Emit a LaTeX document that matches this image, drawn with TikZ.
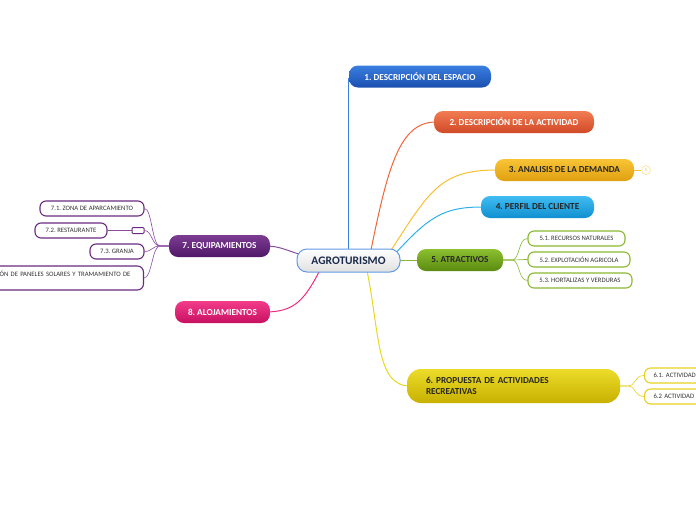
\documentclass[tikz,border=0pt]{standalone}
\usepackage{fontspec}
\setmainfont{Carlito}
\frenchspacing
\definecolor{topA}{HTML}{3A7EE0}\definecolor{botA}{HTML}{1A50B0}
\definecolor{topB}{HTML}{F27C52}\definecolor{botB}{HTML}{D04A28}
\definecolor{topC}{HTML}{F8C436}\definecolor{botC}{HTML}{E0A010}
\definecolor{topD}{HTML}{40BCF2}\definecolor{botD}{HTML}{1090D0}
\definecolor{topE}{HTML}{8CC030}\definecolor{botE}{HTML}{5A8A10}
\definecolor{topF}{HTML}{ECDC2A}\definecolor{botF}{HTML}{C8B000}
\definecolor{topG}{HTML}{7C3C92}\definecolor{botG}{HTML}{501868}
\definecolor{topH}{HTML}{F23C8A}\definecolor{botH}{HTML}{C81060}
\definecolor{lineA}{HTML}{3A80E0}\definecolor{lineB}{HTML}{F0643A}
\definecolor{lineC}{HTML}{F8C030}\definecolor{lineD}{HTML}{30B0E8}
\definecolor{lineE}{HTML}{8AB830}\definecolor{lineF}{HTML}{E8D820}
\definecolor{lineG}{HTML}{8A4AA0}\definecolor{lineH}{HTML}{F02A80}
\definecolor{subG}{HTML}{8AB830}\definecolor{subY}{HTML}{E8D020}\definecolor{subP}{HTML}{6A2A80}
\definecolor{navy}{HTML}{1A2A4A}
\tikzset{
  topic/.style={rounded corners=9pt, minimum height=22pt, inner sep=0pt,
    font=\bfseries\fontsize{9.2}{11}\selectfont},
  subbox/.style={draw, fill=white, rounded corners=6pt, line width=1.1pt,
    minimum height=15pt, inner sep=0pt, font=\fontsize{6.7}{8}\selectfont, text=black!80},
  conn/.style={line width=1pt},
  subconn/.style={line width=0.6pt},
}
\begin{document}
\begin{tikzpicture}[x=1pt,y=-1pt]
\useasboundingbox (0,0) rectangle (696,520);
\clip (0,0) rectangle (696,520);
% connectors first (behind nodes)
\coordinate (top1) at (348.5,78);
\coordinate (bot1) at (348.5,255);
\draw[conn, draw=lineA, line width=1.2pt] (bot1) -- (top1);
\draw[conn, draw=lineB] (370,255) .. controls (388,165) and (400,122) .. (436,122);
\draw[conn, draw=lineC] (388,255) .. controls (430,190) and (440,170) .. (497,170);
\draw[conn, draw=lineD] (394,255) .. controls (430,215) and (445,207) .. (483,207);
\draw[conn, draw=lineE] (395,260) -- (420,260);
\draw[conn, draw=lineF] (366,266) .. controls (380,330) and (375,386) .. (410,386);
\draw[conn, draw=lineG] (305,256) .. controls (285,250) and (280,246) .. (265,246);
\draw[conn, draw=lineH] (322,266) .. controls (305,300) and (295,312) .. (265,312);
% central
\node[draw=lineA!80, line width=1pt, rounded corners=10pt, top color=white, bottom color=black!12,
  minimum width=103pt, minimum height=23pt, inner sep=0pt, text=navy,
  font=\bfseries\fontsize{11.5}{13}\selectfont] (c) at (348.5,260.5) {AGROTURISMO};
% topics
\node[topic, top color=topA, bottom color=botA, text=white, minimum width=142pt] (n1) at (420,76.5) {1. DESCRIPCIÓN DEL ESPACIO};
\node[topic, top color=topB, bottom color=botB, text=white, minimum width=160pt] (n2) at (514,122) {2. DESCRIPCIÓN DE LA ACTIVIDAD};
\node[topic, top color=topC, bottom color=botC, text=black!85, minimum width=139pt] (n3) at (564.5,170) {3. ANALISIS DE LA DEMANDA};
\node[topic, top color=topD, bottom color=botD, text=black!85, minimum width=113pt] (n4) at (537.5,207) {4. PERFIL DEL CLIENTE};
\node[topic, top color=topE, bottom color=botE, text=black!85, minimum width=86pt] (n5) at (460,260) {5. ATRACTIVOS};
\node[topic, top color=topF, bottom color=botF, text=black!85, minimum width=213pt, minimum height=34pt,
  rounded corners=14pt, text width=175pt, align=left] (n6) at (513.5,386) {6. PROPUESTA DE ACTIVIDADES\\RECREATIVAS};
\node[topic, top color=topG, bottom color=botG, text=white, minimum width=101pt] (n7) at (219.5,246) {7. EQUIPAMIENTOS};
\node[topic, top color=topH, bottom color=botH, text=white, minimum width=95pt] (n8) at (222.5,312) {8. ALOJAMIENTOS};
% circle
\node[draw=lineC!70, circle, minimum size=9pt, inner sep=0pt, text=lineC, font=\fontsize{5}{6}\selectfont] (k) at (646,170) {1};
% subtopics 5
\node[subbox, draw=subG, minimum width=97pt] (s51) at (576.5,238.5) {5.1. RECURSOS NATURALES};
\node[subbox, draw=subG, minimum width=102pt] (s52) at (579,259.5) {5.2. EXPLOTACIÓN AGRICOLA};
\node[subbox, draw=subG, minimum width=104pt] (s53) at (580,280.5) {5.3. HORTALIZAS Y VERDURAS};
% subtopics 6
\node[subbox, draw=subY, minimum width=120pt, anchor=west, text width=110pt, align=left, inner xsep=9pt] (s61) at (644,375.5) {6.1. ACTIVIDAD};
\node[subbox, draw=subY, minimum width=120pt, anchor=west, text width=110pt, align=left, inner xsep=9pt] (s62) at (644,396.5) {6.2 ACTIVIDAD};
% subtopics 7
\node[subbox, draw=subP, minimum width=104pt] (s71) at (92,208.5) {7.1. ZONA DE APARCAMIENTO};
\node[subbox, draw=subP, minimum width=72pt] (s72) at (71,230.5) {7.2. RESTAURANTE};
\node[draw=subP, fill=white, line width=1pt, rounded corners=1pt, minimum width=12pt, minimum height=6pt, inner sep=0pt] (r72) at (138,230.5) {};
\node[subbox, draw=subP, minimum width=340pt, minimum height=24pt, anchor=east, text width=320pt, align=right, inner xsep=13pt] (s74) at (144,278)
  {7.4. INSTALACIÓN DE PANELES SOLARES Y TRAMAMIENTO DE\\[1pt]\phantom{A}};
\node[subbox, draw=subP, minimum width=54pt] (s73) at (117,251.5) {7.3. GRANJA};
% sub connectors
\draw[subconn, draw=lineC] (n3.east) -- (k.west);
\draw[subconn, draw=lineE] (n5.east) -- (512,260) .. controls (520,260) and (518,238.5) .. (s51.west);
\draw[subconn, draw=lineE] (n5.east) -- (512,260) .. controls (520,260) and (518,259.5) .. (s52.west);
\draw[subconn, draw=lineE] (n5.east) -- (512,260) .. controls (520,260) and (518,280.5) .. (s53.west);
\draw[subconn, draw=subY] (n6.east) -- (628,386) .. controls (636,386) and (634,375.5) .. (s61.west);
\draw[subconn, draw=subY] (n6.east) -- (628,386) .. controls (636,386) and (634,396.5) .. (s62.west);
\draw[subconn, draw=lineG] (n7.west) -- (160,246) .. controls (152,246) and (152,208.5) .. (s71.east);
\draw[subconn, draw=lineG] (n7.west) -- (160,246) .. controls (152,246) and (152,230.5) .. (r72.east);
\draw[subconn, draw=lineG] (n7.west) -- (160,246) .. controls (152,246) and (152,251.5) .. (s73.east);
\draw[subconn, draw=lineG] (n7.west) -- (160,246) .. controls (152,246) and (152,278) .. (s74.east);
\draw[subconn, draw=lineG] (s72.east) -- (r72.west);
\end{tikzpicture}
\end{document}
